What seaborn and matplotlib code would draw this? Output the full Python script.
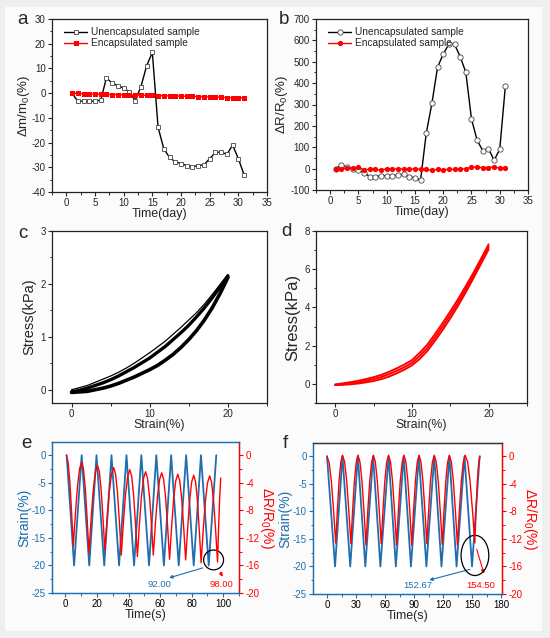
import matplotlib
matplotlib.use("Agg")
import matplotlib.pyplot as plt
import seaborn as sns
from matplotlib.patches import Ellipse, Rectangle
from matplotlib.ticker import MultipleLocator

sns.set_style("ticks")
plt.rcParams['font.family'] = ['Liberation Sans', 'DejaVu Sans']
plt.rcParams['mathtext.default'] = 'regular'
plt.rcParams['axes.unicode_minus'] = False
plt.rcParams['axes.linewidth'] = 0.9
plt.rcParams['axes.edgecolor'] = '#222222'

BLUE = "#1f6fae"
RED = "#ff0000"

# ---- panel a / b : stability over days
days = list(range(1, 32))
mass_unenc = [0, -3.3, -3.2, -3.3, -3.3, -2.8, 6.2, 4.0, 3.0, 2.0, 0.5, -3.0, 2.5, 11.0, 16.5,
              -13.8, -22.5, -26.0, -27.8, -28.5, -29.3, -29.8, -29.3, -29.0, -26.5, -24.0,
              -23.8, -24.8, -21.0, -26.5, -33.0]
mass_enc = [0, -0.1, -0.2, -0.3, -0.4, -0.5, -0.5, -0.6, -0.6, -0.7, -0.7, -0.8, -0.8, -0.9,
            -0.9, -1.0, -1.0, -1.1, -1.1, -1.2, -1.3, -1.3, -1.4, -1.5, -1.5, -1.6, -1.7,
            -1.8, -1.9, -1.9, -2.0]
res_unenc = [0, 16, 6, -1, -5, -19, -37, -37, -34, -33, -33, -31, -27, -37, -44, -53,
             165, 305, 474, 536, 582, 582, 524, 451, 232, 133, 84, 94, 39, 90, 387]
res_enc = [0, -2, 2, 4, 6, -5, -3, -3, -8, 0, -2, -2, -2, -2, -2, -2, -4, -8, -3, -6,
           -3, -4, -3, -1, 6, 7, 5, 5, 8, 2, 2]

# ---- panel c / d : stress-strain cycles (strain 0..20 %)
strain_cd = list(range(0, 21))
c_lower = [-0.05, -0.04, -0.03, 0.0, 0.03, 0.07, 0.12, 0.18, 0.24, 0.31, 0.38, 0.46, 0.56,
           0.67, 0.80, 0.95, 1.12, 1.32, 1.55, 1.82, 2.12]
c_middle = [-0.04, -0.01, 0.03, 0.08, 0.13, 0.19, 0.26, 0.34, 0.42, 0.51, 0.60, 0.71, 0.82,
            0.95, 1.08, 1.22, 1.38, 1.55, 1.74, 1.94, 2.15]
c_upper = [0.0, 0.04, 0.08, 0.14, 0.20, 0.26, 0.33, 0.41, 0.50, 0.60, 0.70, 0.81, 0.92,
           1.05, 1.18, 1.32, 1.46, 1.62, 1.80, 1.99, 2.18]
d_lower = [-0.06, -0.05, -0.02, 0.02, 0.08, 0.15, 0.25, 0.38, 0.55, 0.74, 0.97, 1.30, 1.72,
           2.25, 2.82, 3.43, 4.08, 4.78, 5.52, 6.28, 7.05]
d_middle = [-0.05, -0.01, 0.04, 0.09, 0.16, 0.25, 0.36, 0.51, 0.68, 0.87, 1.10, 1.46, 1.88,
            2.42, 3.00, 3.61, 4.25, 4.94, 5.65, 6.40, 7.18]
d_upper = [-0.03, 0.03, 0.09, 0.16, 0.25, 0.35, 0.47, 0.63, 0.81, 1.01, 1.24, 1.62, 2.05,
           2.60, 3.18, 3.79, 4.42, 5.10, 5.80, 6.54, 7.30]

# ---- panel e : cyclic strain and resistance
e_strain_t = [0.8, 5.5, 10.3, 15.1, 19.7, 24.6, 29.2, 34.0, 38.7, 43.5, 48.1, 53.0, 57.6,
              62.4, 67.0, 71.8, 76.5, 81.3, 85.9, 90.8, 95.6]
e_strain_v = [0, -20, 0, -20, 0, -20, 0, -20, 0, -20, 0, -20, 0, -20, 0, -20, 0, -20, 0, -20, 0]
e_res_t = [0.6, 1.7, 2.8, 3.9, 5.0, 6.3, 7.65, 8.95, 10.3, 11.45, 12.6, 13.75, 14.9,
           16.25, 17.6, 18.95, 20.3, 21.5, 22.65, 23.8, 25.0, 26.4, 27.8, 29.2, 30.6,
           31.8, 33.0, 34.2, 35.4, 36.75, 38.1, 39.45, 40.8, 42.0, 43.2, 44.4, 45.6,
           46.9, 48.2, 49.5, 50.8, 52.0, 53.25, 54.5, 55.7, 57.0, 58.35, 59.7, 61.0,
           62.25, 63.5, 64.75, 66.0, 67.3, 68.6, 69.9, 71.2, 72.45, 73.7, 74.95, 76.2,
           77.5, 78.75, 80.0, 81.3, 82.5, 83.65, 84.8, 86.0, 87.35, 88.7, 90.05, 91.4,
           92.65, 93.9, 95.15, 96.4, 97.0, 97.7, 98.4]
e_res_v = [0.0, -1.0, -3.8, -8.2, -13.2, -8.6, -4.5, -2.0, -1.0, -2.0, -4.8, -9.2, -14.2,
           -9.35, -5.15, -2.47, -1.45, -2.39, -5.03, -9.11, -13.8, -9.24, -5.28, -2.76, -1.8,
           -2.77, -5.48, -9.67, -14.5, -9.79, -5.7, -3.09, -2.1, -3.06, -5.75, -9.91, -14.7,
           -10.03, -5.97, -3.38, -2.4, -3.32, -5.91, -9.9, -14.5, -9.96, -6.02, -3.51, -2.55,
           -3.5, -6.19, -10.33, -15.1, -10.41, -6.33, -3.74, -2.75, -3.7, -6.36, -10.47, -15.2,
           -10.53, -6.47, -3.88, -2.9, -3.87, -6.58, -10.77, -15.6, -10.81, -6.65, -4.01, -3.0,
           -3.95, -6.63, -10.75, -15.5, -11.0, -6.5, -3.3]

# ---- panel f
f_strain_t = [0, 8.3, 16.0, 24.0, 31.9, 39.6, 47.7, 55.2, 63.7, 71.2, 79.3, 86.8, 95.0,
              102.8, 110.9, 118.4, 126.6, 134.0, 142.2, 150.0, 157.9]
f_strain_v = [0, -20, 0, -20, 0, -20, 0, -20, 0, -20, 0, -20, 0, -20, 0, -20, 0, -20, 0, -20, 0]
f_res_t = [0, 2.25, 4.5, 6.75, 9.0, 10.75, 12.5, 14.25, 16.0, 18.2, 20.35, 22.5, 24.7,
           26.5, 28.35, 30.2, 32.0, 34.1, 36.15, 38.2, 40.3, 42.2, 44.15, 46.1, 48.0,
           50.0, 52.0, 54.0, 56.0, 57.9, 59.8, 61.7, 63.6, 65.7, 67.75, 69.8, 71.9,
           73.8, 75.75, 77.7, 79.6, 81.6, 83.6, 85.6, 87.6, 89.5, 91.4, 93.3, 95.2,
           97.2, 99.2, 101.2, 103.2, 105.1, 107.05, 109.0, 110.9, 113.0, 115.05, 117.1, 119.2,
           121.0, 122.85, 124.7, 126.5, 128.6, 130.7, 132.8, 134.9, 136.9, 138.9, 140.9, 142.9,
           145.4, 147.9, 150.4, 152.9, 154.2, 155.55, 156.9, 158.2]
f_res_v = [0.0, -0.96, -3.65, -7.81, -12.6, -7.75, -3.55, -0.87, 0.15, -0.83, -3.58, -7.82, -12.7,
           -7.82, -3.58, -0.88, 0.15, -0.84, -3.63, -7.94, -12.9, -7.94, -3.63, -0.9, 0.15,
           -0.83, -3.58, -7.82, -12.7, -7.82, -3.58, -0.88, 0.15, -0.84, -3.63, -7.94, -12.9,
           -7.94, -3.63, -0.9, 0.15, -0.84, -3.63, -7.94, -12.9, -7.94, -3.63, -0.9, 0.15,
           -0.83, -3.58, -7.82, -12.7, -7.82, -3.58, -0.88, 0.15, -0.84, -3.6, -7.88, -12.8,
           -7.88, -3.6, -0.89, 0.15, -0.84, -3.63, -7.94, -12.9, -7.94, -3.63, -0.9, 0.15,
           -0.82, -3.55, -7.75, -12.6, -7.8, -3.6, -0.9, 0.0]

W, H = 550, 638
fig = plt.figure(figsize=(5.5, 6.38), dpi=100)
fig.patch.set_facecolor('#efefef')
fig.add_artist(Rectangle((5 / W, 1 - 631 / H), 537 / W, 624 / H, transform=fig.transFigure,
                         facecolor='#fbfbfb', edgecolor='none', zorder=-10))

TICK_FS = 7


def box(l, t, r, b):
    return [l / W, 1 - b / H, (r - l) / W, (b - t) / H]


def style_ticks(ax, xmaj, xmin, ymaj, ymin):
    ax.xaxis.set_major_locator(MultipleLocator(xmaj))
    ax.xaxis.set_minor_locator(MultipleLocator(xmin))
    ax.yaxis.set_major_locator(MultipleLocator(ymaj))
    ax.yaxis.set_minor_locator(MultipleLocator(ymin))
    ax.tick_params(which='major', direction='out', length=3, width=0.8, labelsize=TICK_FS, pad=1.5)
    ax.tick_params(which='minor', direction='out', length=1.8, width=0.7)
    ax.tick_params(top=False, right=False)
    for s in ax.spines.values():
        s.set_visible(True)


# ---- a
ax = fig.add_axes(box(52, 19, 267, 192))
sns.lineplot(x=days, y=mass_unenc, ax=ax, color='k', lw=1, marker='s', markersize=3.4,
             markerfacecolor='white', markeredgecolor='#444444', markeredgewidth=0.6,
             label='Unencapsulated sample')
sns.lineplot(x=days, y=mass_enc, ax=ax, color=RED, lw=1, marker='s', markersize=3.6,
             markeredgewidth=0, label='Encapsulated sample')
ax.set_xlim(-2.5, 35)
ax.set_ylim(-40, 30)
style_ticks(ax, 5, 2.5, 10, 5)
ax.set_xlabel('Time(day)', fontsize=9, labelpad=0)
ax.set_ylabel('Δm/m$_0$(%)', fontsize=9.5, labelpad=0)
ax.legend(loc='upper left', frameon=False, fontsize=7.3, handlelength=2.2, handletextpad=0.4,
          labelspacing=0.1, borderaxespad=0.4, bbox_to_anchor=(0.02, 1.0))

# ---- b
ax = fig.add_axes(box(316, 19, 528, 190))
sns.lineplot(x=days, y=res_unenc, ax=ax, color='k', lw=1, marker='o', markersize=3.8,
             markerfacecolor='white', markeredgecolor='#444444', markeredgewidth=0.6,
             label='Unencapsulated sample')
sns.lineplot(x=days, y=res_enc, ax=ax, color=RED, lw=1, marker='o', markersize=3.8,
             markeredgewidth=0, label='Encapsulated sample')
ax.set_xlim(-2.5, 35)
ax.set_ylim(-100, 700)
style_ticks(ax, 5, 2.5, 100, 50)
ax.set_xlabel('Time(day)', fontsize=9, labelpad=0)
ax.set_ylabel('ΔR/R$_0$(%)', fontsize=9.5, labelpad=0)
ax.legend(loc='upper left', frameon=False, fontsize=7.3, handlelength=2.2, handletextpad=0.4,
          labelspacing=0.1, borderaxespad=0.4, bbox_to_anchor=(0.02, 1.0))

# ---- c
ax = fig.add_axes(box(52, 231, 267, 403))
sns.lineplot(x=strain_cd, y=c_lower, ax=ax, color='k', lw=2.6, sort=False, estimator=None)
sns.lineplot(x=strain_cd, y=c_middle, ax=ax, color='k', lw=2.4, sort=False, estimator=None)
sns.lineplot(x=strain_cd, y=c_upper, ax=ax, color='k', lw=0.9, sort=False, estimator=None)
ax.set_xlim(-2.5, 25)
ax.set_ylim(-0.25, 3)
style_ticks(ax, 10, 5, 1, 0.5)
ax.set_xlabel('Strain(%)', fontsize=8.8, labelpad=0)
ax.set_ylabel('Stress(kPa)', fontsize=10.5, labelpad=3)

# ---- d
ax = fig.add_axes(box(316, 231, 527, 403))
for curve in (d_lower, d_middle, d_upper):
    sns.lineplot(x=strain_cd, y=curve, ax=ax, color=RED, lw=1.4, sort=False, estimator=None)
ax.set_xlim(-2.5, 25)
ax.set_ylim(-1, 8)
style_ticks(ax, 10, 5, 2, 1)
ax.set_xlabel('Strain(%)', fontsize=8.8, labelpad=0)
ax.set_ylabel('Stress(kPa)', fontsize=12, labelpad=3)


def dual(rect, xlim, xmaj, xmin, top_color):
    ax = fig.add_axes(rect)
    ax2 = ax.twinx()
    ax.set_xlim(*xlim)
    ax.set_ylim(-25, 2.4)
    ax2.set_ylim(-20, 1.92)
    style_ticks(ax, xmaj, xmin, 5, 2.5)
    ax2.yaxis.set_major_locator(MultipleLocator(4))
    ax2.yaxis.set_minor_locator(MultipleLocator(2))
    ax2.tick_params(which='major', direction='out', length=3, width=0.8, labelsize=TICK_FS,
                    pad=1.5, colors=RED)
    ax2.tick_params(which='minor', direction='out', length=1.8, width=0.7, colors=RED)
    ax.tick_params(axis='y', which='both', colors=BLUE)
    ax.tick_params(axis='x', which='both', color=BLUE, labelcolor='k')
    ax.spines['left'].set_color(BLUE)
    ax.spines['bottom'].set_color(BLUE)
    ax.spines['top'].set_color(top_color)
    ax2.spines['right'].set_color(RED)
    ax2.spines['left'].set_color(BLUE)
    ax2.spines['bottom'].set_color(BLUE)
    ax2.spines['top'].set_color(top_color)
    ax.set_xlabel('Time(s)', fontsize=9, labelpad=0)
    ax.set_ylabel('Strain(%)', fontsize=10, color=BLUE, labelpad=0)
    ax2.set_ylabel('ΔR/R$_0$(%)', fontsize=10, color=RED, rotation=270, labelpad=12)
    return ax, ax2


# ---- e
ax, ax2 = dual(box(52, 442, 239, 593), (-8.5, 110), 20, 10, BLUE)
sns.lineplot(x=e_strain_t, y=e_strain_v, ax=ax, color=BLUE, lw=1.3, sort=False, estimator=None)
sns.lineplot(x=e_res_t, y=e_res_v, ax=ax2, color=RED, lw=1.0, sort=False, estimator=None)
ax.set_xlim(-8.5, 110)
ax.add_patch(Ellipse((93.9, -19.0), 12.6, 3.6, fill=False, ec='k', lw=0.9, zorder=5))
ax.annotate('', xy=(64, -22.4), xytext=(88.7, -20.3),
            arrowprops=dict(arrowstyle='-|>', color=BLUE, lw=0.8, mutation_scale=5))
ax.text(59.5, -23.5, '92.00', color=BLUE, fontsize=6.8, ha='center', va='center')
ax.annotate('', xy=(100.5, -22.5), xytext=(97.3, -20.8),
            arrowprops=dict(arrowstyle='-|>', color=RED, lw=0.8, mutation_scale=5))
ax.text(99, -23.5, '98.00', color=RED, fontsize=6.8, ha='center', va='center')

# ---- f
ax, ax2 = dual(box(313, 443, 502, 594), (-14.5, 181), 30, 15, '#333333')
sns.lineplot(x=f_strain_t, y=f_strain_v, ax=ax, color=BLUE, lw=1.3, sort=False, estimator=None)
sns.lineplot(x=f_res_t, y=f_res_v, ax=ax2, color=RED, lw=1.0, sort=False, estimator=None)
ax.set_xlim(-14.5, 181)
ax.add_patch(Ellipse((153, -18.0), 28.7, 7.3, fill=False, ec='k', lw=0.9, zorder=5))
ax.annotate('', xy=(103, -22.6), xytext=(150.5, -20.4),
            arrowprops=dict(arrowstyle='-|>', color=BLUE, lw=0.8, mutation_scale=5))
ax.text(94, -23.5, '152.67', color=BLUE, fontsize=6.8, ha='center', va='center')
ax.annotate('', xy=(163.2, -21.8), xytext=(154, -16.4),
            arrowprops=dict(arrowstyle='-|>', color=RED, lw=0.8, mutation_scale=5))
ax.text(159, -23.5, '154.50', color=RED, fontsize=6.8, ha='center', va='center')

# panel letters
for letter, (px, py) in {'a': (23, 19), 'b': (284, 19), 'c': (23, 233), 'd': (286, 232),
                         'e': (26, 444), 'f': (285, 444)}.items():
    fig.text(px / W, 1 - py / H, letter, fontsize=13.5, ha='center', va='center')

fig.savefig('out.png', dpi=100, facecolor=fig.get_facecolor())
